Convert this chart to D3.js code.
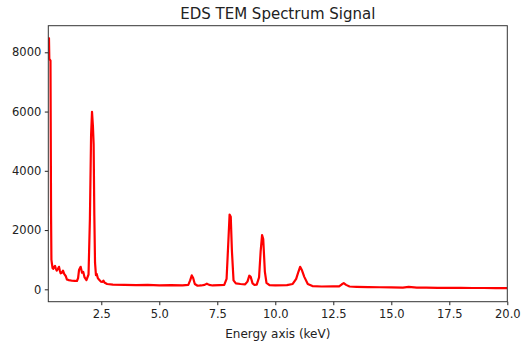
<!DOCTYPE html>
<html>
<head>
<meta charset="utf-8">
<script src="https://cdn.jsdelivr.net/npm/d3@7"></script>
<style>
  html, body { margin: 0; padding: 0; background: #fff; }
  svg { display: block; font-family: "DejaVu Sans", sans-serif; }
</style>
</head>
<body>
<div id="chart"></div>
<script>
// spectrum (keV, counts)
const energy = [
  0.216, 0.245, 0.26, 0.31, 0.335, 0.35, 0.37, 0.40, 0.43, 0.46, 0.505, 0.54, 0.578, 0.62,
  0.677, 0.71, 0.75, 0.80, 0.85, 0.90, 0.966, 1.02, 1.10, 1.24, 1.35, 1.45, 1.50, 1.54,
  1.61, 1.67, 1.72, 1.78, 1.86, 1.95, 2.01, 2.06, 2.10, 2.14, 2.17, 2.20, 2.23, 2.27,
  2.30, 2.35, 2.40, 2.48, 2.55, 2.59, 2.65, 2.75, 3.0, 3.5, 4.0, 4.5, 5.0, 5.5, 6.0,
  6.25, 6.33, 6.40, 6.46, 6.53, 6.65, 6.8, 6.95, 7.05, 7.15, 7.3, 7.6, 7.8, 7.9, 7.97,
  8.03, 8.08, 8.13, 8.2, 8.3, 8.5, 8.7, 8.8, 8.88, 8.94, 9.02, 9.1, 9.2, 9.3, 9.37,
  9.43, 9.48, 9.55, 9.62, 9.75, 10.0, 10.5, 10.75, 10.9, 11.0, 11.07, 11.15, 11.25, 11.4,
  11.6, 12.0, 12.5, 12.75, 12.87, 12.95, 13.05, 13.2, 13.5, 14.0, 14.5, 15.0, 15.5, 15.75,
  16.1, 16.5, 17.0, 17.5, 18.0, 18.5, 19.0, 19.5, 20.0
];
const counts = [
  8450, 8475, 7780, 7720, 2500, 1000, 880, 720, 690, 740, 790, 700, 630, 680,
  760, 640, 540, 560, 630, 520, 450, 330, 310, 290, 285, 280, 380, 650,
  760, 560, 590, 400, 310, 500, 2400, 5200, 5990, 5500, 4900, 2500, 900, 480,
  520, 380, 330, 260, 250, 290, 220, 180, 160, 150, 140, 150, 135, 140, 135,
  150, 300, 470, 380, 180, 120, 130, 150, 190, 150, 130, 140, 150, 350, 1500,
  2520, 2450, 1300, 300, 200, 180, 170, 260, 460, 420, 200, 150, 160, 400, 1300,
  1830, 1700, 600, 220, 140, 130, 140, 180, 350, 600, 760, 640, 420, 180,
  110, 95, 100, 100, 170, 210, 150, 95, 85, 75, 70, 65, 60, 80,
  60, 55, 52, 50, 48, 45, 44, 42, 40
];
const xTicks = [2.5, 5.0, 7.5, 10.0, 12.5, 15.0, 17.5, 20.0];
const yTicks = [0, 2000, 4000, 6000, 8000];

const width = 524, height = 341;
const margin = {top: 25.7, right: 16.7, bottom: 39.3, left: 48.3};

const svg = d3.select("#chart").append("svg")
    .attr("width", width)
    .attr("height", height);

const x = d3.scaleLinear()
    .domain([0.216, 20])
    .range([margin.left, width - margin.right]);

const y = d3.scaleLinear()
    .domain([-418, 8898])
    .range([height - margin.bottom, margin.top]);

svg.append("clipPath").attr("id", "clip")
  .append("rect")
    .attr("x", margin.left)
    .attr("y", margin.top)
    .attr("width", width - margin.left - margin.right)
    .attr("height", height - margin.top - margin.bottom);

const pts = energy.map((e, i) => [e, counts[i]]);

svg.append("path")
    .datum(pts)
    .attr("clip-path", "url(#clip)")
    .attr("fill", "none")
    .attr("stroke", "#ff0000")
    .attr("stroke-width", 2.2)
    .attr("stroke-linejoin", "round")
    .attr("d", d3.line().x(d => x(d[0])).y(d => y(d[1])));

// axes
const xAxis = svg.append("g")
    .attr("transform", `translate(0,${height - margin.bottom})`)
    .call(d3.axisBottom(x).tickValues(xTicks).tickFormat(d3.format(".1f")).tickSize(3.5).tickPadding(4.5).tickSizeOuter(0));

const yAxis = svg.append("g")
    .attr("transform", `translate(${margin.left},0)`)
    .call(d3.axisLeft(y).tickValues(yTicks).tickFormat(d3.format("d")).tickSize(3.5).tickPadding(3.5).tickSizeOuter(0));

for (const g of [xAxis, yAxis]) {
  g.selectAll(".domain").remove();
  g.selectAll(".tick line").attr("stroke", "#222").attr("stroke-width", 1);
  g.selectAll(".tick text")
      .attr("fill", "#222")
      .attr("font-family", "DejaVu Sans, sans-serif")
      .attr("font-size", 11.5);
}

// frame
svg.append("rect")
    .attr("x", margin.left)
    .attr("y", margin.top)
    .attr("width", width - margin.left - margin.right)
    .attr("height", height - margin.top - margin.bottom)
    .attr("fill", "none")
    .attr("stroke", "#333")
    .attr("stroke-width", 1);

svg.append("text")
    .attr("x", (margin.left + width - margin.right) / 2)
    .attr("y", 19.3)
    .attr("text-anchor", "middle")
    .attr("font-size", 15)
    .attr("fill", "#222")
    .text("EDS TEM Spectrum Signal");

svg.append("text")
    .attr("x", (margin.left + width - margin.right) / 2)
    .attr("y", 338)
    .attr("text-anchor", "middle")
    .attr("font-size", 12)
    .attr("fill", "#222")
    .text("Energy axis (keV)");
</script>
</body>
</html>
